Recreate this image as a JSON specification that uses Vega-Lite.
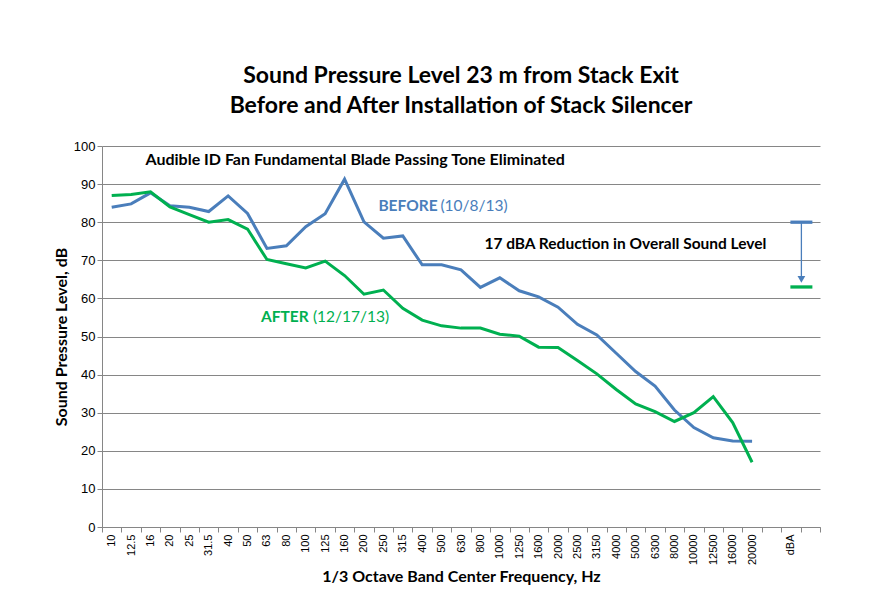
{
  "$schema": "https://vega.github.io/schema/vega-lite/v6.json",
  "autosize": {"type": "none"},
  "padding": {"left": 102, "top": 146, "right": 56, "bottom": 71},
  "width": 718,
  "height": 381,
  "background": "white",
  "config": {"view": {"stroke": null}},
  "title": {
    "text": ["Sound Pressure Level 23 m from Stack Exit", "Before and After Installation of Stack Silencer"],
    "font": "Lato", "fontSize": 23, "fontWeight": "bold", "color": "#000000",
    "lineHeight": 30, "anchor": "middle", "offset": 22
  },
  "data": {"values": [
      {"band": "10", "series": "Before", "level": 83.9},
      {"band": "12.5", "series": "Before", "level": 84.8},
      {"band": "16", "series": "Before", "level": 87.7},
      {"band": "20", "series": "Before", "level": 84.3},
      {"band": "25", "series": "Before", "level": 83.9},
      {"band": "31.5", "series": "Before", "level": 82.8},
      {"band": "40", "series": "Before", "level": 86.9},
      {"band": "50", "series": "Before", "level": 82.3},
      {"band": "63", "series": "Before", "level": 73.1},
      {"band": "80", "series": "Before", "level": 73.8},
      {"band": "100", "series": "Before", "level": 78.8},
      {"band": "125", "series": "Before", "level": 82.2},
      {"band": "160", "series": "Before", "level": 91.3},
      {"band": "200", "series": "Before", "level": 80.1},
      {"band": "250", "series": "Before", "level": 75.8},
      {"band": "315", "series": "Before", "level": 76.4},
      {"band": "400", "series": "Before", "level": 68.8},
      {"band": "500", "series": "Before", "level": 68.8},
      {"band": "630", "series": "Before", "level": 67.5},
      {"band": "800", "series": "Before", "level": 62.9},
      {"band": "1000", "series": "Before", "level": 65.4},
      {"band": "1250", "series": "Before", "level": 62.0},
      {"band": "1600", "series": "Before", "level": 60.4},
      {"band": "2000", "series": "Before", "level": 57.7},
      {"band": "2500", "series": "Before", "level": 53.2},
      {"band": "3150", "series": "Before", "level": 50.4},
      {"band": "4000", "series": "Before", "level": 45.6},
      {"band": "5000", "series": "Before", "level": 40.8},
      {"band": "6300", "series": "Before", "level": 37.0},
      {"band": "8000", "series": "Before", "level": 30.7},
      {"band": "10000", "series": "Before", "level": 26.1},
      {"band": "12500", "series": "Before", "level": 23.4},
      {"band": "16000", "series": "Before", "level": 22.6},
      {"band": "20000", "series": "Before", "level": 22.5},
      {"band": "10", "series": "After", "level": 87.0},
      {"band": "12.5", "series": "After", "level": 87.3},
      {"band": "16", "series": "After", "level": 88.0},
      {"band": "20", "series": "After", "level": 84.0},
      {"band": "25", "series": "After", "level": 82.0},
      {"band": "31.5", "series": "After", "level": 80.0},
      {"band": "40", "series": "After", "level": 80.7},
      {"band": "50", "series": "After", "level": 78.2},
      {"band": "63", "series": "After", "level": 70.2},
      {"band": "80", "series": "After", "level": 69.1},
      {"band": "100", "series": "After", "level": 68.0},
      {"band": "125", "series": "After", "level": 69.8},
      {"band": "160", "series": "After", "level": 66.0},
      {"band": "200", "series": "After", "level": 61.1},
      {"band": "250", "series": "After", "level": 62.2},
      {"band": "315", "series": "After", "level": 57.4},
      {"band": "400", "series": "After", "level": 54.3},
      {"band": "500", "series": "After", "level": 52.8},
      {"band": "630", "series": "After", "level": 52.2},
      {"band": "800", "series": "After", "level": 52.2},
      {"band": "1000", "series": "After", "level": 50.6},
      {"band": "1250", "series": "After", "level": 50.1},
      {"band": "1600", "series": "After", "level": 47.2},
      {"band": "2000", "series": "After", "level": 47.1},
      {"band": "2500", "series": "After", "level": 43.7},
      {"band": "3150", "series": "After", "level": 40.2},
      {"band": "4000", "series": "After", "level": 36.1},
      {"band": "5000", "series": "After", "level": 32.3},
      {"band": "6300", "series": "After", "level": 30.3},
      {"band": "8000", "series": "After", "level": 27.7},
      {"band": "10000", "series": "After", "level": 30.0},
      {"band": "12500", "series": "After", "level": 34.2},
      {"band": "16000", "series": "After", "level": 27.4},
      {"band": "20000", "series": "After", "level": 17.0}
  ]},
  "encoding": {
    "x": {
      "field": "band", "type": "nominal",
      "scale": {"type": "band", "domain": ["10","12.5","16","20","25","31.5","40","50","63","80","100","125","160","200","250","315","400","500","630","800","1000","1250","1600","2000","2500","3150","4000","5000","6300","8000","10000","12500","16000","20000"," ","dBA","  "], "paddingInner": 0, "paddingOuter": 0},
      "axis": {
        "title": "1/3 Octave Band Center Frequency, Hz",
        "titleFont": "Lato", "titleFontSize": 16, "titleFontWeight": "bold", "titleColor": "#000000",
        "labelAngle": -90, "labelFontSize": 11, "labelColor": "#000000",
        "tickBand": "extent", "tickColor": "#868686", "domainColor": "#868686", "grid": false
      }
    },
    "y": {
      "field": "level", "type": "quantitative",
      "scale": {"domain": [0, 100]},
      "axis": {
        "title": "Sound Pressure Level, dB", "titleFont": "Lato", "titleFontSize": 16, "titleFontWeight": "bold", "titleColor": "#000000",
        "labelFontSize": 13, "labelColor": "#000000", "tickColor": "#868686", "domainColor": "#868686",
        "gridColor": "#868686"
      }
    }
  },
  "layer": [
    {
      "mark": {"type": "line", "strokeWidth": 3},
      "encoding": {"color": {"field": "series", "type": "nominal", "scale": {"domain": ["Before", "After"], "range": ["#4A7EBB", "#00B050"]}, "legend": null}}
    },
    {
      "data": {"values": [
        {"band": "dBA", "series": "Before", "level": 80},
        {"band": "dBA", "series": "After", "level": 63}
      ]},
      "mark": {"type": "tick", "size": 22, "thickness": 3.3, "xOffset": 10.5, "opacity": 1},
      "encoding": {"color": {"field": "series", "type": "nominal", "legend": null}}
    },
    {
      "data": {"values": [{"band": "dBA", "level": 80, "end": 65.5}]},
      "mark": {"type": "rule", "color": "#4A7EBB", "strokeWidth": 1.3, "xOffset": 10.5},
      "encoding": {"y2": {"field": "end"}}
    },
    {
      "data": {"values": [{"band": "dBA", "level": 65.0}]},
      "mark": {"type": "point", "shape": "triangle-down", "filled": true, "color": "#4A7EBB", "size": 60, "opacity": 1, "xOffset": 10.5}
    },
    {
      "data": {"values": [{"band": "16", "level": 96.3, "note": "Audible ID Fan Fundamental Blade Passing Tone Eliminated"}]},
      "mark": {"type": "text", "align": "left", "baseline": "middle", "font": "Lato", "fontSize": 16, "fontWeight": "bold", "color": "#000000", "dx": -5},
      "encoding": {"text": {"field": "note"}}
    },
    {
      "data": {"values": [{"band": "800", "level": 74.3, "note": "17 dBA Reduction in Overall Sound Level"}]},
      "mark": {"type": "text", "align": "left", "baseline": "middle", "font": "Lato", "fontSize": 15.5, "fontWeight": "bold", "color": "#000000", "dx": 4},
      "encoding": {"text": {"field": "note"}}
    },
    {
      "data": {"values": [{"band": "250", "level": 84.3, "note": "BEFORE"}]},
      "mark": {"type": "text", "align": "left", "baseline": "middle", "font": "Lato", "fontSize": 15.5, "fontWeight": "bold", "color": "#4A7EBB", "dx": -5},
      "encoding": {"text": {"field": "note"}}
    },
    {
      "data": {"values": [{"band": "63", "level": 55.1, "note": "AFTER"}]},
      "mark": {"type": "text", "align": "left", "baseline": "middle", "font": "Lato", "fontSize": 15.5, "fontWeight": "bold", "color": "#00B050", "dx": -6},
      "encoding": {"text": {"field": "note"}}
    },
    {
      "data": {"values": [{"band": "250", "level": 84.3, "note": "(10/8/13)"}]},
      "mark": {"type": "text", "align": "left", "baseline": "middle", "font": "Lato", "fontSize": 15.5, "color": "#4A7EBB", "dx": 57},
      "encoding": {"text": {"field": "note"}}
    },
    {
      "data": {"values": [{"band": "63", "level": 55.1, "note": "(12/17/13)"}]},
      "mark": {"type": "text", "align": "left", "baseline": "middle", "font": "Lato", "fontSize": 15.5, "color": "#00B050", "dx": 46},
      "encoding": {"text": {"field": "note"}}
    }
  ]
}
